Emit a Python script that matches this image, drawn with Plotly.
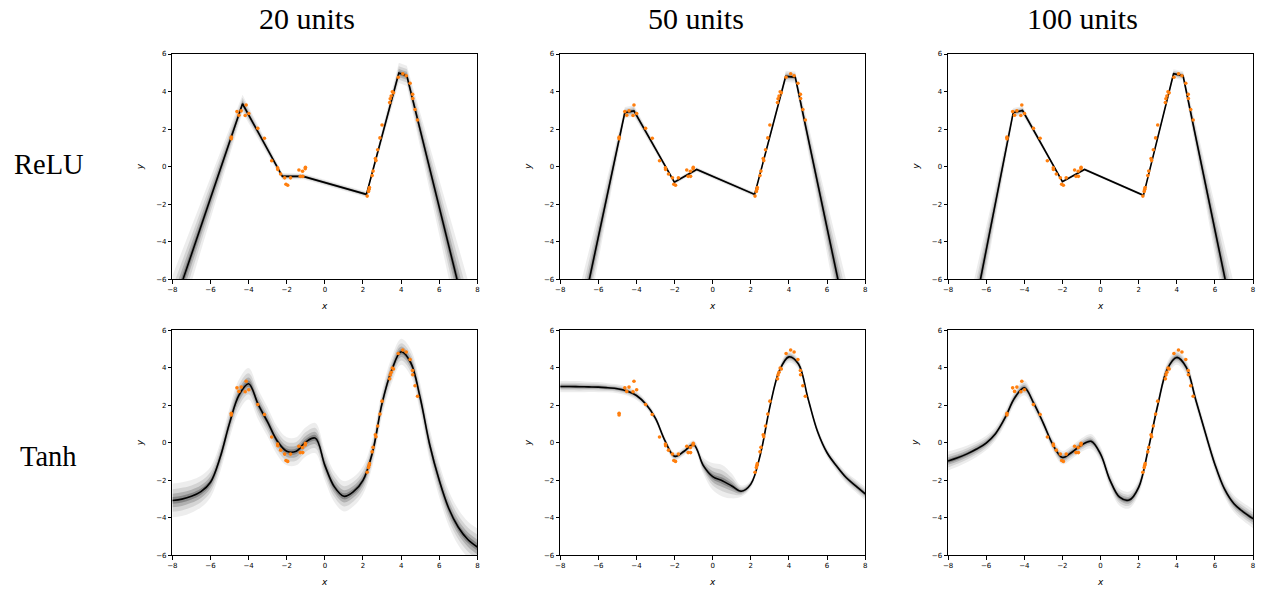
import plotly.graph_objects as go

# ---------------- data ----------------
col_titles = ["20 units", "50 units", "100 units"]
row_titles = ["ReLU", "Tanh"]

x_ticks = [-8, -6, -4, -2, 0, 2, 4, 6, 8]
y_ticks = [-6, -4, -2, 0, 2, 4, 6]

obs_x = [-4.91, -4.91, -4.61, -4.51, -4.39, -4.13, -4.18, -3.99, -3.52, -3.17, -2.79, -2.48,
         -2.47, -2.32, -2.11, -2.04, -1.95, -1.80, -1.36, -1.29, -1.17, -1.16, -1.03, -1.02,
         2.22, 2.29, 2.32, 2.34, 2.48, 2.53, 2.65, 2.68, 2.77, 2.89, 3.00, 3.40,
         3.43, 3.48, 3.54, 3.60, 3.85, 4.09, 4.27, 4.47, 4.60, 4.61, 4.73, 4.86]
obs_y = [1.57, 1.48, 2.93, 2.74, 2.97, 3.28, 2.72, 2.83, 2.04, 1.51, 0.31, -0.06,
         -0.15, -0.39, -0.60, -0.94, -0.99, -0.60, -0.18, -0.52, -0.25, -0.52, -0.11, -0.03,
         -1.57, -1.32, -1.20, -1.11, -0.48, -0.24, 0.43, 0.32, 0.90, 1.53, 2.22, 3.41,
         3.62, 3.76, 3.99, 3.93, 4.76, 4.95, 4.84, 4.44, 3.85, 3.63, 3.04, 2.48]

# ReLU, 20 units
relu20_x = [-8, -4.32, -2.23, -1.14, 2.18, 3.88, 4.30, 8]
relu20_mean = [-7.68, 3.35, -0.52, -0.52, -1.48, 4.99, 4.84, -10.4]
relu20_std = [0.62, 0.16, 0.06, 0.05, 0.05, 0.18, 0.18, 0.86]

# ReLU, 50 units
relu50_x = [-8, -4.61, -4.13, -2.01, -0.84, 2.20, 3.83, 4.33, 8]
relu50_mean = [-13.3, 2.88, 2.97, -0.83, -0.15, -1.48, 4.81, 4.77, -12.9]
relu50_std = [0.9, 0.1, 0.1, 0.04, 0.04, 0.04, 0.1, 0.1, 0.9]

# ReLU, 100 units
relu100_x = [-8, -4.58, -4.09, -2.00, -0.84, 2.25, 3.83, 4.33, 8]
relu100_mean = [-14.8, 2.88, 2.99, -0.80, -0.15, -1.53, 4.95, 4.84, -13.2]
relu100_std = [0.9, 0.08, 0.08, 0.03, 0.03, 0.03, 0.08, 0.08, 0.9]

# Tanh panels share an evenly spaced grid of x knots
tanh_x = [-8, -7.5, -7, -6.5, -6, -5.5, -5, -4.5, -4, -3.5, -3, -2.5, -2, -1.5, -1, -0.5,
          0, 0.5, 1, 1.5, 2, 2.5, 3, 3.5, 4, 4.5, 5, 5.5, 6, 6.5, 7, 7.5, 8]

# Tanh, 20 units
tanh20_mean = [-3.07, -3.0, -2.85, -2.6, -2.1, -0.8, 1.05, 2.55, 3.15, 2.05, 1.1, 0.1,
               -0.45, -0.45, 0.05, 0.25, -1.2, -2.35, -2.85, -2.6, -2.0, -0.5, 2.1, 3.85,
               4.85, 4.28, 2.4, -0.1, -2.0, -3.5, -4.5, -5.15, -5.55]
tanh20_std = [0.3, 0.3, 0.29, 0.28, 0.27, 0.26, 0.27, 0.28, 0.28, 0.27, 0.26, 0.25, 0.25,
              0.25, 0.26, 0.27, 0.27, 0.27, 0.27, 0.26, 0.25, 0.24, 0.23, 0.23, 0.23, 0.24,
              0.26, 0.28, 0.3, 0.31, 0.32, 0.32, 0.33]

# Tanh, 50 units
tanh50_mean = [3.0, 3.0, 2.99, 2.98, 2.97, 2.93, 2.88, 2.76, 2.52, 2.05, 1.3, 0.1, -0.72,
               -0.45, -0.1, -1.2, -1.8, -2.02, -2.3, -2.58, -2.2, -0.62, 1.92, 3.85, 4.58,
               4.2, 2.36, 0.6, -0.53, -1.24, -1.85, -2.29, -2.72]
tanh50_std = [0.1, 0.1, 0.1, 0.09, 0.09, 0.08, 0.08, 0.08, 0.08, 0.07, 0.07, 0.07, 0.07,
              0.07, 0.08, 0.14, 0.24, 0.28, 0.22, 0.1, 0.07, 0.07, 0.07, 0.08, 0.1, 0.09,
              0.08, 0.08, 0.08, 0.09, 0.1, 0.11, 0.12]

# Tanh, 100 units
tanh100_mean = [-0.97, -0.8, -0.59, -0.33, -0.01, 0.5, 1.35, 2.4, 2.93, 2.1, 1.04, -0.1,
                -0.78, -0.5, -0.12, 0.08, -0.6, -2.0, -2.9, -3.05, -2.37, -0.36, 2.0, 3.93,
                4.55, 4.02, 2.27, 0.52, -1.15, -2.46, -3.25, -3.69, -4.04]
tanh100_std = [0.17, 0.16, 0.15, 0.14, 0.13, 0.12, 0.12, 0.12, 0.13, 0.12, 0.11, 0.11, 0.12,
               0.12, 0.12, 0.13, 0.13, 0.14, 0.15, 0.15, 0.13, 0.11, 0.11, 0.12, 0.13, 0.13,
               0.12, 0.12, 0.13, 0.14, 0.15, 0.16, 0.17]

# ---------------- figure ----------------
W, H = 1262, 590
panels = [
    (relu20_x, relu20_mean, relu20_std, "linear"),
    (relu50_x, relu50_mean, relu50_std, "linear"),
    (relu100_x, relu100_mean, relu100_std, "linear"),
    (tanh_x, tanh20_mean, tanh20_std, "spline"),
    (tanh_x, tanh50_mean, tanh50_std, "spline"),
    (tanh_x, tanh100_mean, tanh100_std, "spline"),
]

col_px = [(168.3, 475.0), (558.3, 865.0), (948.3, 1255.0)]
row_px = [(50.7, 279.0), (330.7, 559.0)]
title_cx = [304, 695, 1084]
row_cy = [163, 459]

band_levels = [(3.0, 0.07), (2.0, 0.1), (1.2, 0.17), (0.6, 0.24)]

fig = go.Figure()
layout_axes = {}
for i, (xs, ys, ss, shape) in enumerate(panels):
    n = i + 1
    xa = "x" if n == 1 else f"x{n}"
    ya = "y" if n == 1 else f"y{n}"
    for k, a in band_levels:
        lo = [y - k * s for y, s in zip(ys, ss)]
        hi = [y + k * s for y, s in zip(ys, ss)]
        fig.add_trace(go.Scatter(x=xs, y=lo, mode="lines", line=dict(width=0, shape=shape),
                                 hoverinfo="skip", showlegend=False, xaxis=xa, yaxis=ya))
        fig.add_trace(go.Scatter(x=xs, y=hi, mode="lines", line=dict(width=0, shape=shape),
                                 fill="tonexty", fillcolor=f"rgba(0,0,0,{a})",
                                 hoverinfo="skip", showlegend=False, xaxis=xa, yaxis=ya))
    fig.add_trace(go.Scatter(x=xs, y=ys, mode="lines",
                             line=dict(color="black", width=1.6, shape=shape),
                             showlegend=False, xaxis=xa, yaxis=ya))
    fig.add_trace(go.Scatter(x=obs_x, y=obs_y, mode="markers",
                             marker=dict(color="#ff7f0e", size=3.6, line=dict(width=0)),
                             showlegend=False, xaxis=xa, yaxis=ya))

    c, r = i % 3, i // 3
    x0, x1 = col_px[c]
    yt, yb = row_px[r]
    axcommon = dict(showline=True, linecolor="black", linewidth=1, mirror=True,
                    ticks="outside", ticklen=3.5, tickwidth=0.8, tickcolor="black",
                    showgrid=False, zeroline=False,
                    tickfont=dict(family="DejaVu Sans", size=7, color="black"))
    layout_axes["xaxis" if n == 1 else f"xaxis{n}"] = dict(
        domain=[x0 / W, x1 / W], anchor=ya, range=[-8, 8], tickvals=x_ticks, **axcommon)
    layout_axes["yaxis" if n == 1 else f"yaxis{n}"] = dict(
        domain=[1 - yb / H, 1 - yt / H], anchor=xa, range=[-6, 6], tickvals=y_ticks, **axcommon)

fig.update_layout(width=W, height=H, margin=dict(l=0, r=0, t=0, b=0),
                  paper_bgcolor="white", plot_bgcolor="white", **layout_axes)

annotations = []
for c, t in enumerate(col_titles):
    annotations.append(dict(text=t, x=title_cx[c] / W, y=1 - 15 / H,
                            xref="paper", yref="paper", showarrow=False,
                            xanchor="center", yanchor="middle",
                            font=dict(family="Liberation Serif", size=30, color="black")))
for r, t in enumerate(row_titles):
    annotations.append(dict(text=t, x=44 / W, y=1 - row_cy[r] / H,
                            xref="paper", yref="paper", showarrow=False,
                            xanchor="center", yanchor="middle",
                            font=dict(family="Liberation Serif", size=28.5, color="black")))
for r in range(2):
    for c in range(3):
        annotations.append(dict(text="<i>x</i>", x=(col_px[c][0] + col_px[c][1]) / 2 / W,
                                y=1 - (306 if r == 0 else 586) / H,
                                xref="paper", yref="paper", showarrow=False,
                                xanchor="center", yanchor="middle",
                                font=dict(family="DejaVu Sans", size=9, color="black")))
        annotations.append(dict(text="<i>y</i>", x=(col_px[c][0] - 33) / W,
                                y=1 - ((row_px[r][0] + row_px[r][1]) / 2) / H,
                                xref="paper", yref="paper", showarrow=False, textangle=-90,
                                xanchor="center", yanchor="middle",
                                font=dict(family="DejaVu Sans", size=9, color="black")))
fig.update_layout(annotations=annotations)

fig.write_html("out.html")
